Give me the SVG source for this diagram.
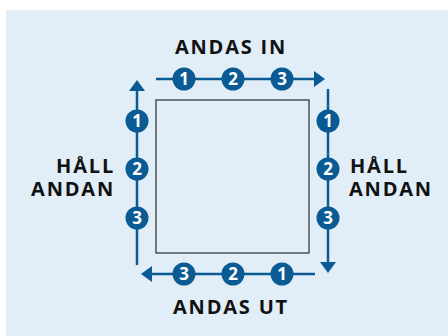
<svg xmlns="http://www.w3.org/2000/svg" width="448" height="336" viewBox="0 0 448 336">
<style>
.lbl{font-family:"Open Sans","Liberation Sans",sans-serif;font-weight:700;font-size:20px;letter-spacing:1.8px;fill:#111}
.ln{stroke:#0a5a94;stroke-width:2.5;fill:none}
.c{fill:#0a5a94}
.n{font-family:"Open Sans","Liberation Sans",sans-serif;font-weight:700;font-size:17px;fill:#fff;text-anchor:middle}
.ah{fill:#0a5a94}
</style>
<rect x="0" y="0" width="448" height="336" fill="#ffffff"/>
<rect x="6" y="10" width="442" height="326" fill="#e1eef7"/>
<g id="square"><rect x="156" y="100" width="153" height="153" fill="none" stroke="#2a2a2a" stroke-width="1.2"/></g>
<g id="connectors">
<line class="ln" x1="156" y1="79" x2="316" y2="79"/>
<polygon class="ah" points="314,71 325,79 314,87"/>
<line class="ln" x1="328" y1="89" x2="328" y2="264"/>
<polygon class="ah" points="320,262 328,273 336,262"/>
<line class="ln" x1="315" y1="274" x2="150" y2="274"/>
<polygon class="ah" points="152,266 141,274 152,282"/>
<line class="ln" x1="137" y1="265" x2="137" y2="89"/>
<polygon class="ah" points="129,91 137,80 145,91"/>
</g>
<g id="top">
<circle class="c" cx="184" cy="79" r="11.5"/><text class="n" x="184" y="85">1</text>
<circle class="c" cx="233" cy="79" r="11.5"/><text class="n" x="233" y="85">2</text>
<circle class="c" cx="282" cy="79" r="11.5"/><text class="n" x="282" y="85">3</text>
<text class="lbl" x="231" y="54" text-anchor="middle">ANDAS IN</text>
</g>
<g id="right">
<circle class="c" cx="328" cy="121" r="11.5"/><text class="n" x="328" y="127">1</text>
<circle class="c" cx="328" cy="169" r="11.5"/><text class="n" x="328" y="175">2</text>
<circle class="c" cx="328" cy="218" r="11.5"/><text class="n" x="328" y="224">3</text>
<text class="lbl" x="350" y="173">HÅLL</text>
<text class="lbl" x="349" y="196">ANDAN</text>
</g>
<g id="bottom">
<circle class="c" cx="282" cy="274" r="11.5"/><text class="n" x="282" y="280">1</text>
<circle class="c" cx="233" cy="274" r="11.5"/><text class="n" x="233" y="280">2</text>
<circle class="c" cx="184" cy="274" r="11.5"/><text class="n" x="184" y="280">3</text>
<text class="lbl" x="231" y="314" text-anchor="middle">ANDAS UT</text>
</g>
<g id="left">
<circle class="c" cx="137" cy="121" r="11.5"/><text class="n" x="137" y="127">1</text>
<circle class="c" cx="137" cy="169" r="11.5"/><text class="n" x="137" y="175">2</text>
<circle class="c" cx="137" cy="218" r="11.5"/><text class="n" x="137" y="224">3</text>
<text class="lbl" x="115" y="173" text-anchor="end">HÅLL</text>
<text class="lbl" x="115" y="196" text-anchor="end">ANDAN</text>
</g>
</svg>
